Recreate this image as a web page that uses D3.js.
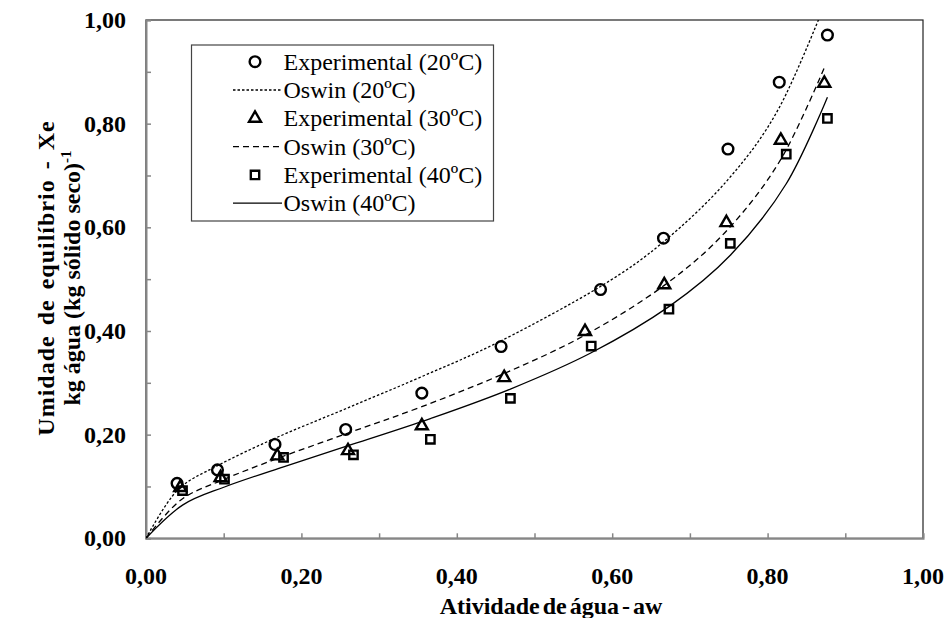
<!DOCTYPE html>
<html>
<head>
<meta charset="utf-8">
<script src="https://cdn.jsdelivr.net/npm/d3@7"></script>
<style>
  body { margin: 0; background: #fff; }
  text { font-family: "Liberation Serif", "Times New Roman", Times, serif; }
  .tick-label { font-weight: 700; font-size: 24px; fill: #000; }
  .axis-title { font-weight: 700; font-size: 24px; fill: #000; }
  .legend-text { font-size: 24px; fill: #000; }
</style>
</head>
<body>
<svg id="chart" width="949" height="618"></svg>
<script>
// experimental points (aw, Xe)
const awExp20 = [0.040, 0.092, 0.166, 0.257, 0.355, 0.457, 0.585, 0.666, 0.749, 0.815, 0.877];
const xeExp20 = [0.106, 0.132, 0.181, 0.210, 0.280, 0.370, 0.480, 0.579, 0.751, 0.880, 0.971];
const awExp30 = [0.044, 0.096, 0.169, 0.260, 0.355, 0.461, 0.565, 0.667, 0.747, 0.817, 0.873];
const xeExp30 = [0.098, 0.117, 0.159, 0.169, 0.217, 0.310, 0.399, 0.489, 0.609, 0.768, 0.878];
const awExp40 = [0.047, 0.101, 0.177, 0.267, 0.366, 0.469, 0.573, 0.673, 0.752, 0.824, 0.877];
const xeExp40 = [0.092, 0.114, 0.156, 0.161, 0.191, 0.270, 0.371, 0.442, 0.569, 0.741, 0.810];

// Oswin curves
const awOsw20 = [0, 0.040, 0.092, 0.166, 0.257, 0.355, 0.457, 0.585, 0.666, 0.749, 0.815, 0.877];
const xeOsw20 = [0, 0.092, 0.140, 0.193, 0.250, 0.312, 0.381, 0.486, 0.572, 0.692, 0.831, 1.043];
const awOsw30 = [0, 0.044, 0.096, 0.169, 0.260, 0.355, 0.461, 0.565, 0.667, 0.747, 0.817, 0.873];
const xeOsw30 = [0, 0.073, 0.111, 0.154, 0.203, 0.254, 0.318, 0.392, 0.488, 0.593, 0.731, 0.908];
const awOsw40 = [0, 0.047, 0.101, 0.177, 0.267, 0.366, 0.469, 0.573, 0.673, 0.752, 0.824, 0.877];
const xeOsw40 = [0, 0.064, 0.099, 0.138, 0.182, 0.231, 0.288, 0.358, 0.447, 0.546, 0.684, 0.851];

const xTicks = [0, 0.1, 0.2, 0.3, 0.4, 0.5, 0.6, 0.7, 0.8, 0.9, 1.0];
const yTicks = [0, 0.1, 0.2, 0.3, 0.4, 0.5, 0.6, 0.7, 0.8, 0.9, 1.0];
const labelTicks = [0, 0.2, 0.4, 0.6, 0.8, 1.0];

const legendLabels = [
  "Experimental (20ºC)", "Oswin (20ºC)",
  "Experimental (30ºC)", "Oswin (30ºC)",
  "Experimental (40ºC)", "Oswin (40ºC)"
];

(() => {
  const svg = d3.select("#chart");
  const plot = { left: 146, right: 923, top: 20, bottom: 538.3 };
  const serif = "'Liberation Serif', 'Times New Roman', Times, serif";

  const x = d3.scaleLinear().domain([0, 1]).range([plot.left, plot.right]);
  const y = d3.scaleLinear().domain([0, 1]).range([plot.bottom, plot.top]);
  const fmt = v => v.toFixed(2).replace(".", ",");

  svg.append("rect").attr("width", 949).attr("height", 618).attr("fill", "#fff");

  svg.append("defs").append("clipPath").attr("id", "plot-clip")
    .append("rect")
    .attr("x", plot.left).attr("y", plot.top)
    .attr("width", plot.right - plot.left).attr("height", plot.bottom - plot.top);

  // plot area border (top / right dark)
  svg.append("rect")
    .attr("x", plot.left).attr("y", plot.top)
    .attr("width", plot.right - plot.left).attr("height", plot.bottom - plot.top)
    .attr("fill", "none").attr("stroke", "#222").attr("stroke-width", 1.2);

  // axes, grey, ticks pointing inside
  const xAxis = d3.axisTop(x).tickValues(xTicks).tickSize(5).tickFormat("");
  const yAxis = d3.axisRight(y).tickValues(yTicks).tickSize(5).tickFormat("");

  const gx = svg.append("g").attr("transform", `translate(0,${plot.bottom})`).call(xAxis);
  const gy = svg.append("g").attr("transform", `translate(${plot.left},0)`).call(yAxis);
  [gx, gy].forEach(g => {
    g.select(".domain").attr("stroke", "#868686").attr("stroke-width", 2);
    g.selectAll(".tick line").attr("stroke", "#868686").attr("stroke-width", 1.5);
  });

  svg.append("g").selectAll("text")
    .data(labelTicks)
    .join("text")
    .attr("class", "tick-label")
    .attr("font-family", serif)
    .attr("x", d => x(d))
    .attr("y", 584)
    .attr("text-anchor", "middle")
    .text(fmt);

  svg.append("g").selectAll("text")
    .data(labelTicks)
    .join("text")
    .attr("class", "tick-label")
    .attr("font-family", serif)
    .attr("x", 126)
    .attr("y", d => y(d) + 8)
    .attr("text-anchor", "end")
    .text(fmt);

  // titles
  svg.append("text")
    .attr("class", "axis-title")
    .attr("font-family", serif)
    .attr("x", 551).attr("y", 614)
    .attr("text-anchor", "middle")
    .attr("word-spacing", -3)
    .text("Atividade de água - aw");

  const yTitle = svg.append("text")
    .attr("class", "axis-title")
    .attr("font-family", serif)
    .attr("transform", "translate(0,278) rotate(-90)")
    .attr("text-anchor", "middle");
  yTitle.append("tspan").attr("x", 0).attr("y", 54)
    .attr("letter-spacing", 1)
    .attr("word-spacing", 3)
    .text("Umidade de equilíbrio - Xe");
  const line2 = yTitle.append("tspan").attr("x", 0).attr("y", 80);
  line2.append("tspan").text("kg água (kg sólido seco)");
  line2.append("tspan").attr("dy", -9).attr("font-size", 15).text("-1");

  // Oswin curves
  const lineGen = d3.line()
    .x(d => x(d[0]))
    .y(d => y(d[1]))
    .curve(d3.curveCardinal.tension(0));

  const curves = [
    { aw: awOsw20, xe: xeOsw20, dash: "2.5,2" },
    { aw: awOsw30, xe: xeOsw30, dash: "6,4" },
    { aw: awOsw40, xe: xeOsw40, dash: null }
  ];

  svg.append("g").attr("clip-path", "url(#plot-clip)")
    .selectAll("path")
    .data(curves)
    .join("path")
    .attr("d", c => lineGen(d3.zip(c.aw, c.xe)))
    .attr("fill", "none")
    .attr("stroke", "#000")
    .attr("stroke-width", 1.3)
    .attr("stroke-dasharray", c => c.dash);

  // experimental markers
  const symbols = [
    d3.symbol().type(d3.symbolCircle).size(90),
    d3.symbol().type(d3.symbolTriangle).size(62),
    d3.symbol().type(d3.symbolSquare).size(70)
  ];

  const series = [
    { aw: awExp20, xe: xeExp20, sym: symbols[0] },
    { aw: awExp30, xe: xeExp30, sym: symbols[1] },
    { aw: awExp40, xe: xeExp40, sym: symbols[2] }
  ];

  series.forEach(s => {
    svg.append("g")
      .selectAll("path")
      .data(d3.zip(s.aw, s.xe))
      .join("path")
      .attr("transform", d => `translate(${x(d[0])},${y(d[1])})`)
      .attr("d", s.sym())
      .attr("fill", "none")
      .attr("stroke", "#000")
      .attr("stroke-width", 2.4);
  });

  // legend
  const legend = svg.append("g");
  legend.append("rect")
    .attr("x", 191.5).attr("y", 45)
    .attr("width", 302).attr("height", 176)
    .attr("fill", "#fff").attr("stroke", "#444").attr("stroke-width", 1.2);

  const rowY = i => 61.7 + i * 28.3;

  legendLabels.forEach((label, i) => {
    const cy = rowY(i);
    const k = Math.floor(i / 2);
    if (i % 2 === 0) {
      legend.append("path")
        .attr("transform", `translate(255,${cy})`)
        .attr("d", symbols[k]())
        .attr("fill", "none")
        .attr("stroke", "#000")
        .attr("stroke-width", 2.4);
    } else {
      legend.append("line")
        .attr("x1", 233).attr("x2", 282)
        .attr("y1", cy).attr("y2", cy)
        .attr("stroke", "#000")
        .attr("stroke-width", 1.3)
        .attr("stroke-dasharray", curves[k].dash);
    }
    legend.append("text")
      .attr("class", "legend-text")
      .attr("font-family", serif)
      .attr("x", 283.5)
      .attr("y", cy + 8)
      .text(label);
  });
})();
</script>
</body>
</html>
